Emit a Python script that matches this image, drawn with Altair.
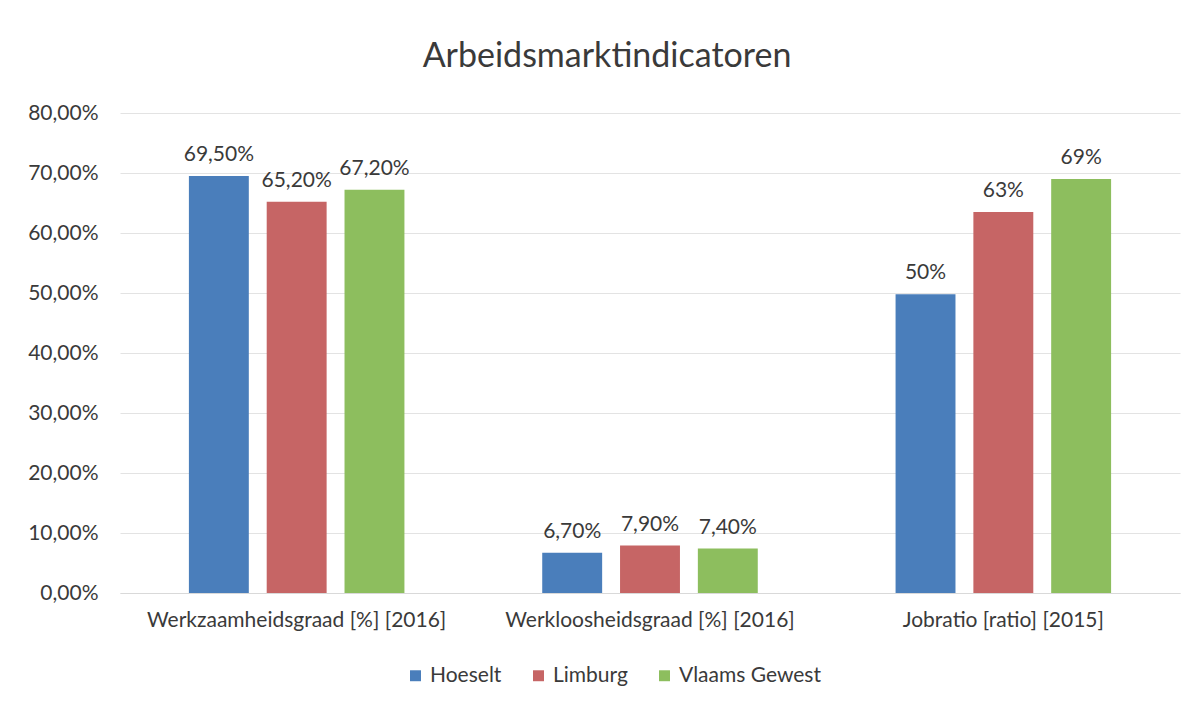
import altair as alt
import pandas as pd

indicators = ["Werkzaamheidsgraad [%] [2016]", "Werkloosheidsgraad [%] [2016]", "Jobratio [ratio] [2015]"]
regions = ["Hoeselt", "Limburg", "Vlaams Gewest"]
hoeselt = [69.5, 6.7, 49.8]
limburg = [65.2, 7.9, 63.5]
vlaams = [67.2, 7.4, 69.0]
labels_hoeselt = ["69,50%", "6,70%", "50%"]
labels_limburg = ["65,20%", "7,90%", "63%"]
labels_vlaams = ["67,20%", "7,40%", "69%"]
colors = ["#4A7EBB", "#C66565", "#8DBE5E"]

rows = []
for reg, vals, labs in zip(regions, [hoeselt, limburg, vlaams], [labels_hoeselt, labels_limburg, labels_vlaams]):
    for ind, v, l in zip(indicators, vals, labs):
        rows.append({"indicator": ind, "region": reg, "value": v, "label": l})
df = pd.DataFrame(rows)

FONT = "Lato"
TXT = "#3a3a3a"

x = alt.X("indicator:N", sort=indicators,
          scale=alt.Scale(paddingInner=0.39, paddingOuter=0.195),
          axis=alt.Axis(title=None, labelAngle=0, ticks=False, labelFontSize=21,
                        labelFont=FONT, labelColor=TXT, labelPadding=16, labelLimit=0,
                        domainColor="#d9d9d9", grid=False))
xo = alt.XOffset("region:N", sort=regions, scale=alt.Scale(paddingInner=0.23, paddingOuter=0))
y = alt.Y("value:Q", scale=alt.Scale(domain=[0, 80]),
          axis=alt.Axis(title=None, values=[0, 10, 20, 30, 40, 50, 60, 70, 80],
                        labelExpr="replace(format(datum.value, '.2f'), '.', ',') + '%'",
                        ticks=False, domain=False, gridColor="#e3e3e3",
                        labelFontSize=21, labelFont=FONT, labelColor=TXT, labelPadding=22))

bars = alt.Chart(df).mark_bar().encode(
    x=x, xOffset=xo, y=y,
    color=alt.Color("region:N", sort=regions,
                    scale=alt.Scale(domain=regions, range=colors),
                    legend=alt.Legend(title=None, orient="none", direction="horizontal",
                                      legendX=285, legendY=552, symbolType="square",
                                      symbolSize=120, labelFontSize=21, labelFont=FONT,
                                      labelColor=TXT, columnPadding=26, symbolStrokeWidth=0)),
)

text = alt.Chart(df).mark_text(baseline="bottom", dy=-11, fontSize=21, font=FONT, color=TXT).encode(
    x=x, xOffset=xo, y=y, text="label:N"
)

chart = (bars + text).properties(
    width=1060, height=480,
    padding={"left": 112, "top": 105, "right": 7, "bottom": 100},
    autosize=alt.AutoSizeParams(type="none"),
    background="white",
    title=alt.TitleParams("Arbeidsmarktindicatoren", fontSize=34, font=FONT, fontWeight="normal",
                          color=TXT, dx=-43, offset=28, anchor="middle"),
).configure_view(stroke=None)

chart.save("out.html", embed_options={"renderer": "svg", "actions": False})
